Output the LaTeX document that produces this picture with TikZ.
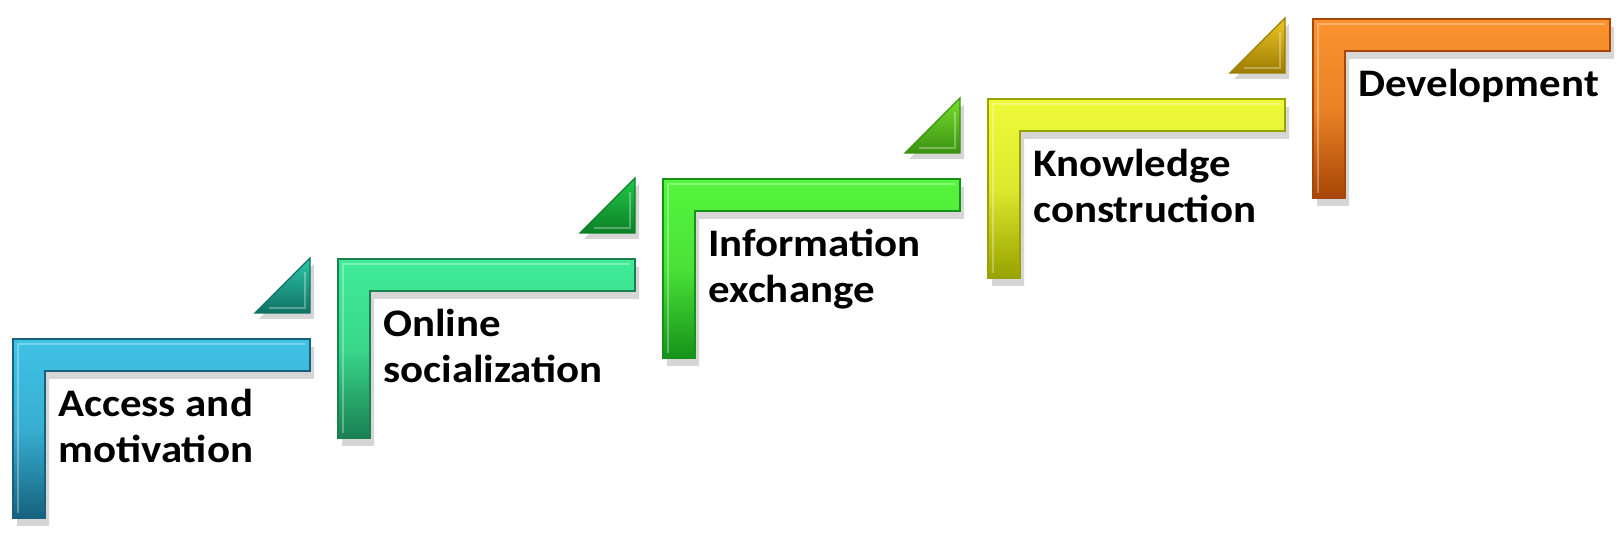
\documentclass[tikz,border=0pt]{standalone}
\usepackage{fontspec}
\setmainfont[FakeStretch=1.1]{Carlito}
\usetikzlibrary{positioning}

\definecolor{saLt}{HTML}{40C2E6}
\definecolor{saDk}{HTML}{16627E}
\definecolor{sbLt}{HTML}{40EC98}
\definecolor{sbDk}{HTML}{1A8052}
\definecolor{scLt}{HTML}{56F53E}
\definecolor{scDk}{HTML}{16921A}
\definecolor{sdLt}{HTML}{EEFA3A}
\definecolor{sdDk}{HTML}{98A200}
\definecolor{seLt}{HTML}{FA922E}
\definecolor{seDk}{HTML}{A84606}
\definecolor{taLt}{HTML}{2CC6A6}
\definecolor{taDk}{HTML}{107264}
\definecolor{tbLt}{HTML}{22C848}
\definecolor{tbDk}{HTML}{0C8028}
\definecolor{tcLt}{HTML}{78DE2C}
\definecolor{tcDk}{HTML}{3A9210}
\definecolor{tdLt}{HTML}{EEC628}
\definecolor{tdDk}{HTML}{9C7C00}

\begin{document}
\begin{tikzpicture}[x=0.5pt, y=-0.5pt,
  stepbar/.style={draw=#1Dk, line width=0.7pt, top color=#1Lt, bottom color=#1Dk, middle color=#1Lt!80!#1Dk},
  tri/.style={draw=#1Dk, line width=0.7pt, top color=#1Lt, bottom color=#1Dk},
  shade/.style={fill=black, opacity=0.16},
  bevel/.style={draw=white, opacity=0.3, line width=0.8pt},
  lbl/.style={anchor=north west, align=left, inner sep=0pt, font=\fontsize{19.5}{23}\selectfont\bfseries}]
  \useasboundingbox (0,0) rectangle (1624,544);
  % corner pieces between the steps
  \foreach \i/\c [evaluate=\i as \x using 13+325*\i, evaluate=\i as \y using 339-80*\i]
    in {0/ta, 1/tb, 2/tc, 3/td} {
    \fill[shade] (\x+246,\y-20) -- (\x+301,\y-20) -- (\x+301,\y-75) -- cycle;
    \path[tri=\c] (\x+242,\y-26) -- (\x+297,\y-26) -- (\x+297,\y-81) -- cycle;
    \draw[bevel] (\x+256,\y-31) -- (\x+292,\y-31) -- (\x+292,\y-67);
  }
  % the steps
  \foreach \i/\c/\n/\txt [evaluate=\i as \x using 13+325*\i, evaluate=\i as \y using 339-80*\i]
    in {0/sa/access/{Access and\\motivation}, 1/sb/social/{Online\\socialization},
    2/sc/info/{Information\\exchange}, 3/sd/know/{Knowledge\\construction}, 4/se/devel/{Development}} {
    \fill[shade] (\x+4,\y+187) -- (\x+4,\y+8) -- (\x+301,\y+8) -- (\x+301,\y+40) -- (\x+36,\y+40) -- (\x+36,\y+187) -- cycle;
    \path[stepbar=\c] (\x,\y+179) -- (\x,\y) -- (\x+297,\y) -- (\x+297,\y+32) -- (\x+32,\y+32) -- (\x+32,\y+179) -- cycle;
    \draw[bevel] (\x+5,\y+174) -- (\x+5,\y+5) -- (\x+292,\y+5);
    \node[lbl] (\n) at (\x+45,\y+50) {\txt};
  }
\end{tikzpicture}
\end{document}
